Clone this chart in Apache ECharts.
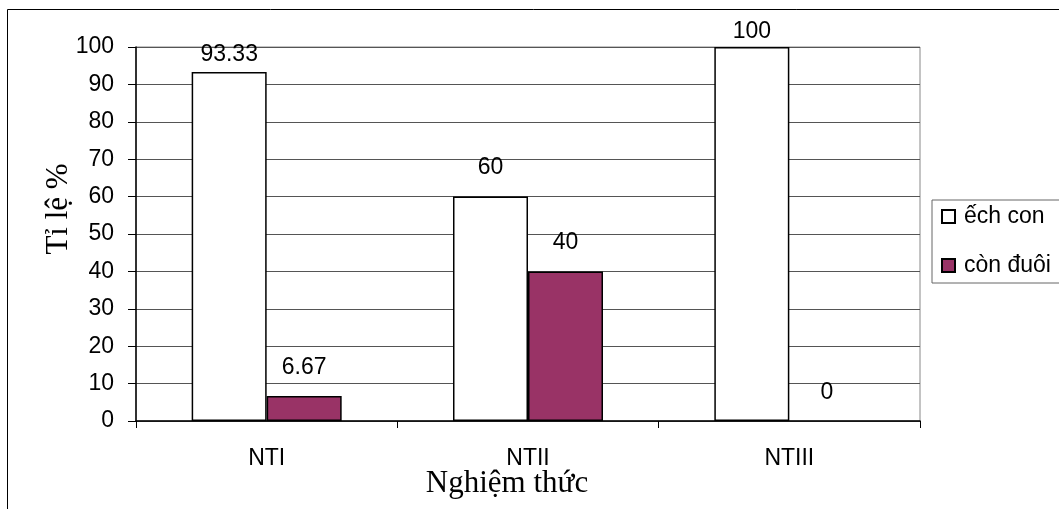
<!DOCTYPE html>
<html>
<head>
<meta charset="utf-8">
<script src="https://cdn.jsdelivr.net/npm/echarts@6/dist/echarts.min.js"></script>
<style>html,body{margin:0;padding:0;background:#fff}#c{width:1059px;height:509px}</style>
</head>
<body>
<div id="c"></div>
<script>
const categories = ['NTI', 'NTII', 'NTIII'];
const seriesNames = ['ếch con', 'còn đuôi'];
const echCon = [93.33, 60, 100];
const conDuoi = [6.67, 40, 0];
const yTicks = { min: 0, max: 100, interval: 10 };
const yTitle = 'Tỉ lệ %';
const xTitle = 'Nghiệm thức';

const SANS = 'Liberation Sans';
const SERIF = 'Liberation Serif';
const fills = ['#ffffff', '#993366'];

function labelDist(v) { return v > 95 ? 3.5 : (v > 90 ? 5.5 : 17); }

function mkSeries(name, vals, idx) {
  return {
    name: name,
    type: 'bar',
    barGap: '0%',
    barCategoryGap: '42.6%',
    itemStyle: { color: fills[idx], borderColor: '#000', borderWidth: 1.5 },
    data: vals.map(v => ({
      value: v,
      itemStyle: v === 0 ? { borderWidth: 0, opacity: 0 } : undefined,
      label: { distance: labelDist(v), opacity: 1 }
    })),
    label: {
      show: true, position: 'top', color: '#000',
      fontFamily: SANS, fontSize: 23, lineHeight: 23,
      formatter: p => String(p.value)
    },
    emphasis: { disabled: true },
    animation: false
  };
}

const chart = echarts.init(document.getElementById('c'), null, { renderer: 'canvas' });
chart.setOption({
  animation: false,
  grid: { left: 136, top: 47, right: 139, bottom: 88, show: true, borderColor: '#888', borderWidth: 1, backgroundColor: 'transparent' },
  legend: {
    orient: 'vertical', left: 932, top: 200,
    padding: [5, 24, 6, 9],
    itemGap: 26, itemWidth: 13, itemHeight: 13,
    icon: 'rect',
    borderColor: '#666', borderWidth: 1, borderRadius: 0,
    textStyle: { fontFamily: SANS, fontSize: 23, lineHeight: 23, color: '#000', padding: [0, 0, 0, 4] },
    data: seriesNames
  },
  xAxis: {
    type: 'category', data: categories, boundaryGap: true,
    axisLine: { lineStyle: { color: '#000', width: 1.5 } },
    axisTick: { show: true, length: 7, interval: 0, lineStyle: { color: '#000', width: 1 } },
    axisLabel: { fontFamily: SANS, fontSize: 23, color: '#000', margin: 26, interval: 0 }
  },
  yAxis: {
    type: 'value', min: yTicks.min, max: yTicks.max, interval: yTicks.interval,
    axisLine: { show: true, lineStyle: { color: '#000', width: 1.5 } },
    axisTick: { show: true, length: 8, lineStyle: { color: '#000', width: 1 } },
    axisLabel: { fontFamily: SANS, fontSize: 23, color: '#000', margin: 22 },
    splitLine: { show: true, lineStyle: { color: '#555', width: 1 } }
  },
  series: [mkSeries(seriesNames[0], echCon, 0), mkSeries(seriesNames[1], conDuoi, 1)],
  graphic: [
    { type: 'rect', shape: { x: 7.5, y: 9.5, width: 1100, height: 600 }, style: { fill: 'none', stroke: '#000', lineWidth: 1 }, silent: true, z: -1 },
    { type: 'text', x: 59, y: 209, rotation: Math.PI / 2,
      style: { text: yTitle, fontFamily: SERIF, fontSize: 31, fill: '#000', align: 'center', verticalAlign: 'middle' } },
    { type: 'text', x: 507, y: 484,
      style: { text: xTitle, fontFamily: SERIF, fontSize: 31, fill: '#000', align: 'center', verticalAlign: 'middle' } }
  ]
});
</script>
</body>
</html>
